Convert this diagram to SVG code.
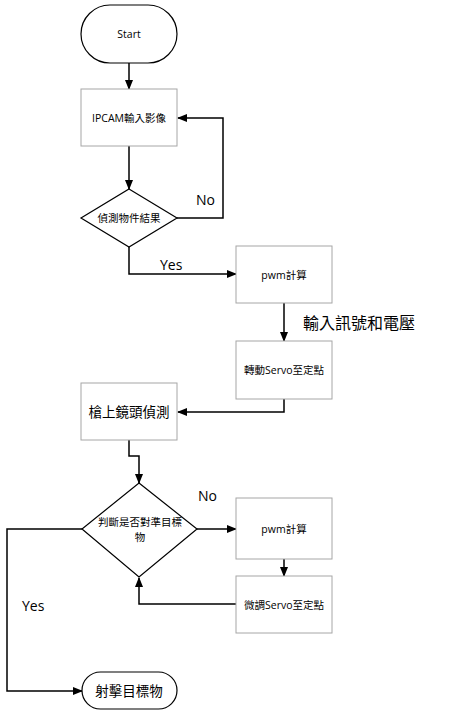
<svg xmlns="http://www.w3.org/2000/svg" width="454" height="717" viewBox="0 0 454 717">
<defs>
<marker id="ah" markerWidth="10" markerHeight="10" refX="9" refY="4" orient="auto" markerUnits="userSpaceOnUse">
<path d="M0,0 L10,4 L0,8 Z" fill="#000"/>
</marker>
<style>
.box{fill:#fff;stroke:#a6a6a6;stroke-width:1}
.term{fill:#fff;stroke:#000;stroke-width:1.2}
.dia{fill:#fff;stroke:#000;stroke-width:1.2}
.conn{fill:none;stroke:#000;stroke-width:1.5;marker-end:url(#ah)}
.t{font-family:"Open Sans","Noto Sans CJK TC",sans-serif;fill:#000;text-anchor:middle;dominant-baseline:central}
.s{font-size:10.5px}
.m{font-size:13.5px}
.l{font-size:14px;text-anchor:start}
</style>
</defs>
<rect width="454" height="717" fill="#fff"/>
<g id="connectors">
<path class="conn" d="M129,63 V89"/>
<path class="conn" d="M129,146 V189"/>
<path class="conn" d="M177,218 H223 V118 H178"/>
<path class="conn" d="M129,247 V274 H236"/>
<path class="conn" d="M284,303 V341"/>
<path class="conn" d="M284,399 V412 H178"/>
<path class="conn" d="M129,440 V456 H139 V483"/>
<path class="conn" d="M197,529 H236"/>
<path class="conn" d="M284,559 V576"/>
<path class="conn" d="M236,604 H139 V578"/>
<path class="conn" d="M82,529 H7 V691 H82"/>
</g>
<g id="labels">
<text class="t l" x="196" y="199">No</text>
<text class="t l" x="160" y="264">Yes</text>
<text class="t" x="359" y="323" style="font-size:16px">輸入訊號和電壓</text>
<text class="t l" x="198" y="495">No</text>
<text class="t l" x="22" y="605">Yes</text>
</g>
<g id="start">
<rect class="term" x="81" y="5" width="96" height="58" rx="29" ry="29"/>
<text class="t s" x="129" y="34">Start</text>
</g>
<g id="ipcam">
<rect class="box" x="81" y="89" width="96" height="57"/>
<text class="t s" x="129" y="118">IPCAM輸入影像</text>
</g>
<g id="detect">
<polygon class="dia" points="129,189 177,218 129,247 81,218"/>
<text class="t s" x="129" y="218">偵測物件結果</text>
</g>
<g id="pwm1">
<rect class="box" x="236" y="246" width="96" height="57"/>
<text class="t s" x="284" y="275">pwm計算</text>
</g>
<g id="servo1">
<rect class="box" x="236" y="341" width="96" height="58"/>
<text class="t s" x="284" y="370">轉動Servo至定點</text>
</g>
<g id="lens">
<rect class="box" x="81" y="383" width="96" height="57"/>
<text class="t m" x="129" y="412">槍上鏡頭偵測</text>
</g>
<g id="judge">
<polygon class="dia" points="139,483 197,529 139,577 82,529"/>
<text class="t s" x="140" y="522">判斷是否對準目標</text>
<text class="t s" x="140" y="537">物</text>
</g>
<g id="pwm2">
<rect class="box" x="236" y="498" width="96" height="61"/>
<text class="t s" x="284" y="529">pwm計算</text>
</g>
<g id="servo2">
<rect class="box" x="236" y="576" width="96" height="57"/>
<text class="t s" x="284" y="605">微調Servo至定點</text>
</g>
<g id="shoot">
<rect class="term" x="82" y="672" width="95" height="37" rx="18.5" ry="18.5"/>
<text class="t m" x="129" y="691">射擊目標物</text>
</g>
</svg>
